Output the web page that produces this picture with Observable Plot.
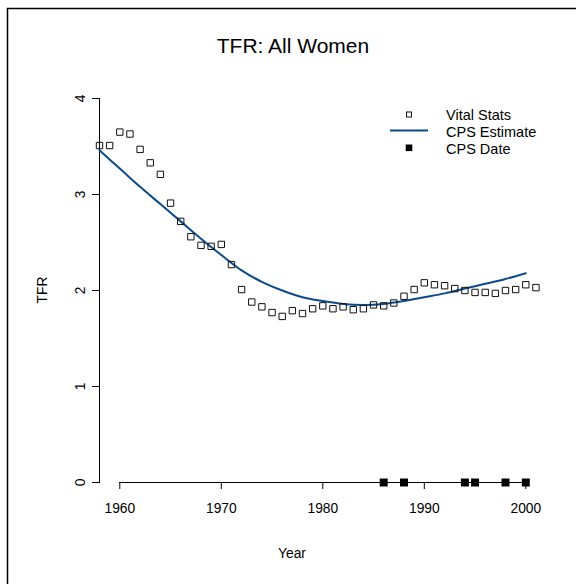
<!DOCTYPE html>
<html>
<head>
<meta charset="utf-8">
<script src="https://cdn.jsdelivr.net/npm/d3@7"></script>
<script src="https://cdn.jsdelivr.net/npm/@observablehq/plot@0.6"></script>
<style>
  html, body { margin: 0; padding: 0; background: #fff; }
  #chart { width: 576px; height: 584px; }
</style>
</head>
<body>
<div id="chart"></div>
<script>
const titleText = "TFR: All Women";
const xLabel = "Year";
const yLabel = "TFR";
const xTicks = [1960, 1970, 1980, 1990, 2000];
const yTicks = [0, 1, 2, 3, 4];

// Vital statistics (open squares)
const vitalYears = [1958, 1959, 1960, 1961, 1962, 1963, 1964, 1965, 1966, 1967,
  1968, 1969, 1970, 1971, 1972, 1973, 1974, 1975, 1976, 1977,
  1978, 1979, 1980, 1981, 1982, 1983, 1984, 1985, 1986, 1987,
  1988, 1989, 1990, 1991, 1992, 1993, 1994, 1995, 1996, 1997,
  1998, 1999, 2000, 2001];
const vitalTFR = [3.51, 3.51, 3.65, 3.63, 3.47, 3.33, 3.21, 2.91, 2.72, 2.56,
  2.47, 2.46, 2.48, 2.27, 2.01, 1.88, 1.83, 1.77, 1.73, 1.79,
  1.76, 1.81, 1.84, 1.81, 1.83, 1.80, 1.81, 1.85, 1.84, 1.87,
  1.94, 2.01, 2.08, 2.06, 2.05, 2.02, 2.00, 1.98, 1.98, 1.97,
  2.00, 2.01, 2.06, 2.03];

// CPS estimate (smooth line)
const cpsYears = [1958, 1960, 1962, 1964, 1966, 1968, 1970, 1972, 1974, 1976, 1978,
  1980, 1982, 1984, 1986, 1988, 1990, 1992, 1994, 1996, 1998, 2000];
const cpsTFR = [3.46, 3.27, 3.08, 2.90, 2.72, 2.54, 2.37, 2.21, 2.09, 2.00, 1.93,
  1.89, 1.86, 1.85, 1.86, 1.89, 1.93, 1.97, 2.02, 2.07, 2.12, 2.18];

// CPS survey dates (filled squares at zero)
const cpsDates = [1986, 1988, 1994, 1995, 1998, 2000];
const cpsDateValue = [0, 0, 0, 0, 0, 0];

const vital = vitalYears.map((y, i) => ({year: y, tfr: vitalTFR[i]}));
const cps = cpsYears.map((y, i) => ({year: y, tfr: cpsTFR[i]}));
const dates = cpsDates.map((y, i) => ({year: y, tfr: cpsDateValue[i]}));

const W = 576, H = 584;
const mL = 99, mR = 30.4, mT = 98, mB = 102;
const lineColor = "#0b4a8b";
const font = "'Liberation Sans', Arial, Helvetica, sans-serif";

const plot = Plot.plot({
  width: W,
  height: H,
  marginLeft: mL,
  marginRight: mR,
  marginTop: mT,
  marginBottom: mB,
  style: {fontFamily: font, fontSize: "13.8px", color: "#000", background: "#fff", overflow: "visible"},
  x: {domain: [1958, 2002], ticks: xTicks, tickSize: 7, tickPadding: 14, tickFormat: d => String(d), label: null},
  y: {domain: [0, 4], ticks: yTicks, tickSize: 7, tickFormat: () => "", label: null, line: true},
  marks: [
    Plot.ruleY([0], {x1: xTicks[0], x2: xTicks[xTicks.length - 1], stroke: "#000", strokeWidth: 1}),
    Plot.text(yTicks, {y: d => d, text: d => String(d), frameAnchor: "left", dx: -19, rotate: -90,
      textAnchor: "middle", lineAnchor: "middle", fontSize: 13.8, fill: "#000"}),
    Plot.line(cps, {x: "year", y: "tfr", stroke: lineColor, strokeWidth: 2, curve: "catmull-rom"}),
    Plot.dot(vital, {x: "year", y: "tfr", symbol: "square", r: 3.6, stroke: "#111", strokeWidth: 1, fill: "none"}),
    Plot.dot(dates, {x: "year", y: "tfr", symbol: "square", r: 4.5, fill: "#000", stroke: "none"})
  ]
});
document.getElementById("chart").appendChild(plot);

const svg = d3.select(plot);
// figure frame (only top and left edges visible)
svg.append("path").attr("d", `M7.5,${H} V8.5 H${W}`).attr("fill", "none").attr("stroke", "#000").attr("stroke-width", 1.5);
// title
svg.append("text").attr("x", 293).attr("y", 53).attr("text-anchor", "middle")
  .attr("font-family", font).attr("font-size", 21).attr("fill", "#000").text(titleText);
// x label
svg.append("text").attr("x", 292).attr("y", 558).attr("text-anchor", "middle")
  .attr("font-family", font).attr("font-size", 13.8).attr("fill", "#000").text(xLabel);
// y label
svg.append("text").attr("transform", "translate(42,290) rotate(-90)").attr("text-anchor", "middle")
  .attr("dy", "0.35em").attr("font-family", font).attr("font-size", 13.8).attr("fill", "#000").text(yLabel);

// legend
const leg = svg.append("g").attr("font-family", font).attr("font-size", 14.5).attr("text-anchor", "start");
const legItems = [
  {label: "Vital Stats", y: 114.5, kind: "open"},
  {label: "CPS Estimate", y: 131.5, kind: "line"},
  {label: "CPS Date", y: 148.5, kind: "filled"}
];
legItems.forEach(it => {
  if (it.kind === "open") {
    leg.append("rect").attr("x", 406.5).attr("y", it.y - 2.5).attr("width", 5).attr("height", 5)
      .attr("fill", "none").attr("stroke", "#111").attr("stroke-width", 1);
  } else if (it.kind === "line") {
    leg.append("line").attr("x1", 390).attr("x2", 428).attr("y1", it.y - 1).attr("y2", it.y - 1)
      .attr("stroke", lineColor).attr("stroke-width", 2);
  } else {
    leg.append("rect").attr("x", 405.7).attr("y", it.y - 4).attr("width", 6.6).attr("height", 6.6)
      .attr("fill", "#000");
  }
  leg.append("text").attr("x", 446).attr("y", it.y).attr("dy", "0.35em").attr("text-anchor", "start")
    .attr("fill", "#000").text(it.label);
});
</script>
</body>
</html>
